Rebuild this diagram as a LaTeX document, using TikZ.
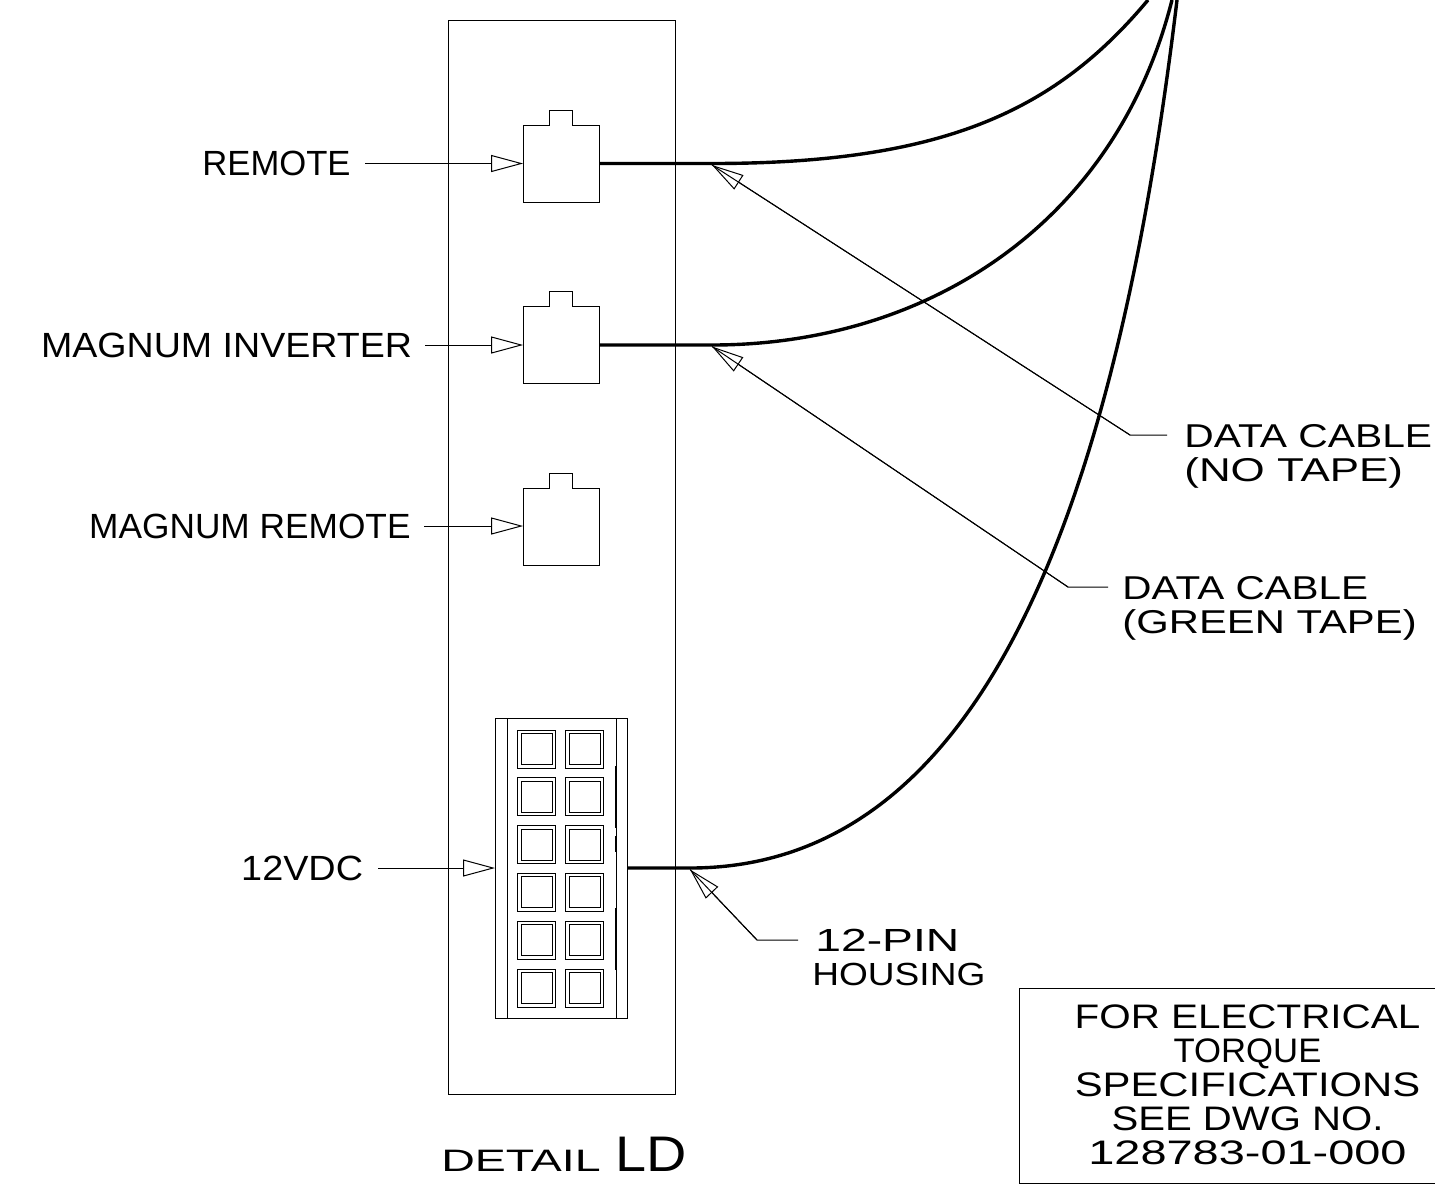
\documentclass[tikz,border=0pt]{standalone}
\usepackage{fontspec}
\setmainfont{Liberation Sans}
\usetikzlibrary{arrows.meta}

\tikzset{
    thinline/.style={line width=0.5pt},
    leader/.style={thinline, -{Triangle[open,length=16pt,width=8.5pt]}},
    cable/.style={line width=1.7pt},
    jackbox/.style={minimum size=38pt, inner sep=0pt},
    labeltext/.style={font=\fontsize{17.5}{17}\selectfont, inner sep=0pt},
    boxtext/.style={font=\fontsize{16.5}{17}\selectfont, inner sep=0pt, align=left},
    pintext/.style={font=\fontsize{16}{17}\selectfont, inner sep=0pt, align=left},
    notetext/.style={font=\fontsize{17}{17}\selectfont, inner sep=0pt, align=center}
}

\begin{document}
\begin{tikzpicture}[x=0.5pt,y=-0.5pt]
    \useasboundingbox (0,0) rectangle (1435,1185);

    % Panel
    \draw[thinline] (448.5,20) rectangle (675,1094);

    % Jacks
    \foreach \n/\y in {1/164,2/345,3/527} {
        \node[jackbox] (jack\n) at (561.5,\y) {};
        \draw[thinline] (jack\n.north west) -- ++(26.5,0) -- ++(0,-15.5) -- ++(23,0) -- ++(0,15.5)
            -- (jack\n.north east) -- (jack\n.south east) -- (jack\n.south west) -- cycle;
    }

    % 12-pin housing
    \node[draw, thinline, minimum width=66pt, minimum height=150pt, inner sep=0pt] (housing) at (561.5,868.5) {};
    \draw[thinline] (507,718.5) -- (507,1018.5);
    \draw[thinline] (616,718.5) -- (616,1018.5);
    \foreach \x in {536.5,584.5} {
        \foreach \y in {749,796.8,844.6,892.4,940.2,988} {
            \draw[thinline] (\x-19,\y-19) rectangle (\x+19,\y+19);
            \draw[thinline] (\x-15.5,\y-15.5) rectangle (\x+15.5,\y+15.5);
        }
    }
    \draw[line width=1pt] (616,766) -- (616,828);
    \draw[line width=1pt] (616,836) -- (616,852);
    \draw[line width=1pt] (616,908) -- (616,970);

    % Cables
    \coordinate (bend1) at (712,163.5);
    \coordinate (bend2) at (712,345);
    \coordinate (bend3) at (690,868);
    \draw[cable] (jack1.east |- bend1) -- (bend1) .. controls (945,163.5) and (1056,110) .. (1148,0);
    \draw[cable] (jack2.east |- bend2) -- (bend2) .. controls (926,345) and (1115,225) .. (1172,0);
    \draw[cable] (housing.east |- bend3) -- (bend3) .. controls (986,868) and (1117,500) .. (1177,0);

    % Left labels
    \node[labeltext, anchor=east] (remote) at (351,163.5) {\scalebox{0.99}[1]{REMOTE}};
    \node[labeltext, anchor=east] (inverter) at (412.5,345) {\scalebox{1.074}[1]{MAGNUM INVERTER}};
    \node[labeltext, anchor=east] (magremote) at (411,526) {\scalebox{1.008}[1]{MAGNUM REMOTE}};
    \node[labeltext, anchor=east] (vdc) at (363.5,868) {\scalebox{1.08}[1]{12VDC}};
    \draw[leader] (365,163.5) -- (jack1.west |- remote);
    \draw[leader] (425,345) -- (jack2.west |- inverter);
    \draw[leader] (424,526) -- (jack3.west |- magremote);
    \draw[leader] (378,868) -- (housing.west |- vdc);

    % Right labels
    \node[boxtext, anchor=west] (notape) at (1184,456) {\scalebox{1.236}[1]{DATA CABLE}\\\scalebox{1.33}[1]{(NO TAPE)}};
    \node[boxtext, anchor=west] (greentape) at (1122,608) {\scalebox{1.226}[1]{DATA CABLE}\\\scalebox{1.267}[1]{(GREEN TAPE)}};
    \node[pintext, anchor=west] (pinhousing) at (812,957) {\hspace{1.5pt}\scalebox{1.445}[1]{12-PIN}\\\scalebox{1.158}[1]{HOUSING}};
    \coordinate (knee1) at (1130,435);
    \coordinate (knee2) at (1068,587);
    \coordinate (knee3) at (757,940);
    \coordinate (end1) at (1167,435);
    \coordinate (end2) at (1108,587);
    \coordinate (end3) at (798,940);
    \draw[thinline] (end1) -- (knee1) -- ([yshift=-0.75pt]bend1);
    \draw[thinline] (end2) -- (knee2) -- ([yshift=-0.75pt]bend2);
    \draw[thinline] (end3) -- (knee3) -- ([yshift=-0.75pt]bend3);
    \draw[leader] (knee1) -- ([yshift=-0.75pt]bend1);
    \draw[leader] (knee2) -- ([yshift=-0.75pt]bend2);
    \draw[leader] (knee3) -- ([yshift=-0.75pt]bend3);

    % Torque note
    \node[draw, thinline, minimum width=211pt, minimum height=97.5pt, inner sep=0pt] (notebox) at (1230.5,1085.5) {};
    \node[notetext] (note) at (1247.5,1085) {\scalebox{1.188}[1]{FOR ELECTRICAL}\\\scalebox{1.02}[1]{TORQUE}\\\scalebox{1.23}[1]{SPECIFICATIONS}\\\scalebox{1.18}[1]{SEE DWG NO.}\\\scalebox{1.38}[1]{128783-01-000}};

    % Title
    \node[inner sep=0pt, anchor=base west] (title) at (441,1171) {\fontsize{15.5}{18}\selectfont\scalebox{1.5}[1]{DETAIL}\hspace{7.5pt}\fontsize{25}{27}\selectfont\scalebox{1.116}[1]{LD}};
\end{tikzpicture}
\end{document}
